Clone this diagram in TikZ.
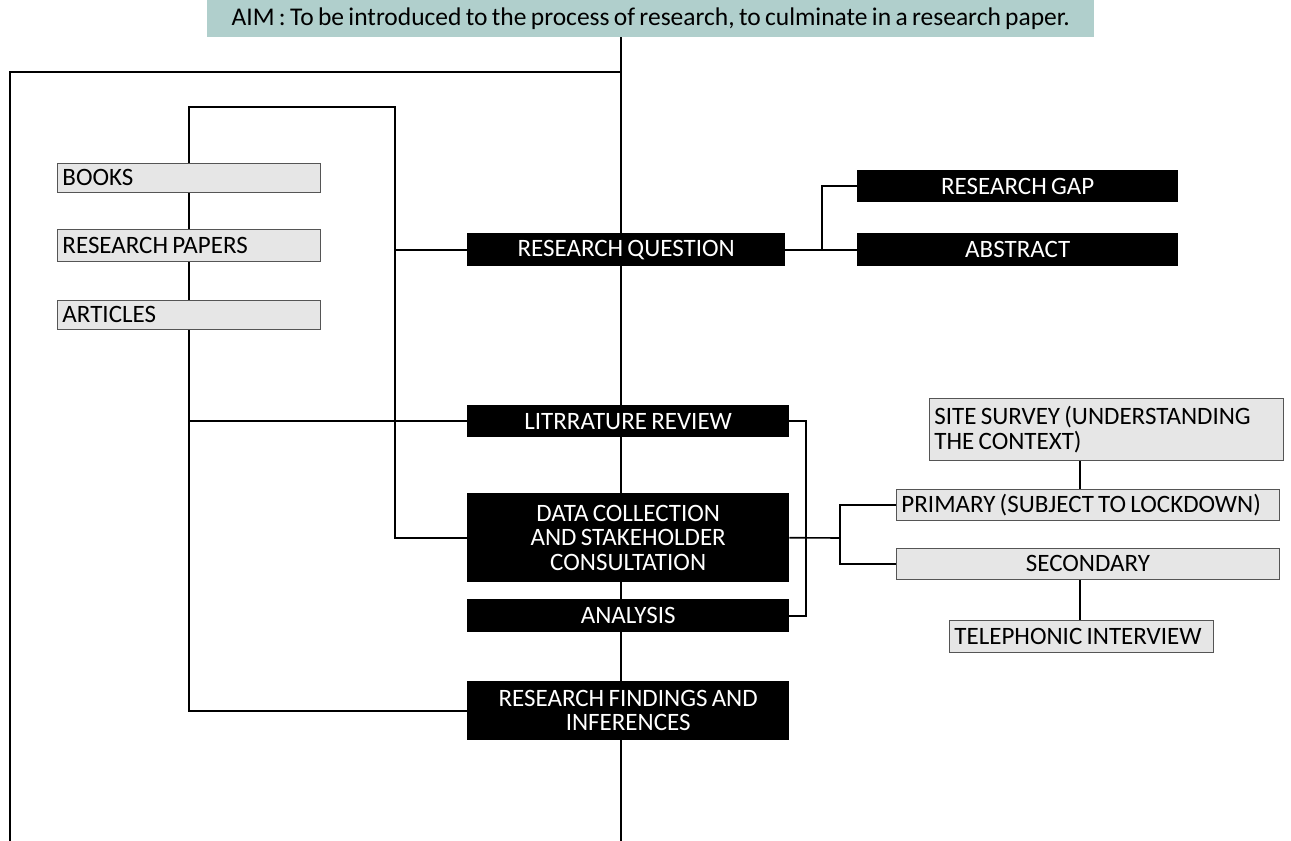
\documentclass[tikz,border=0pt]{standalone}
\usepackage{fontspec}
\setmainfont{Carlito}[WordSpace=0.75]
\usetikzlibrary{calc}
\pgfdeclarelayer{background}
\pgfsetlayers{background,main}
\definecolor{aimfill}{HTML}{B0CFCC}
\definecolor{gryfill}{HTML}{E6E6E6}
\definecolor{grydraw}{HTML}{555555}
\newcommand{\bigf}{\fontsize{25}{24.5}\selectfont}
\newcommand{\aimf}{\fontsize{25.5}{26}\selectfont}
\tikzset{
  blkbox/.style={fill=black, text=white, inner sep=0pt, align=flush center, font=\bigf, anchor=north west},
  grybox/.style={fill=gryfill, draw=grydraw, line width=0.9pt, inner ysep=0pt, inner xsep=5pt, font=\bigf, anchor=north west},
  conn/.style={line width=1.6pt, black}
}
\begin{document}
\begin{tikzpicture}[x=1pt, y=-1pt]
\useasboundingbox (0,0) rectangle (1291,841);
% banner
\node[fill=aimfill, inner sep=0pt, minimum width=887, minimum height=37, anchor=north west, font=\aimf] (aim) at (207,0) {AIM : To be introduced to the process of research, to culminate in a research paper.};
% left sources
\node[grybox, minimum height=29, text width=253, align=flush left] (books) at (57,163) {BOOKS};
\node[grybox, minimum height=32, text width=253, align=flush left] (papers) at (57,229) {RESEARCH PAPERS};
\node[grybox, minimum height=29, text width=253, align=flush left] (articles) at (57,300) {ARTICLES};
% central column
\node[blkbox, minimum width=318, minimum height=33] (rq) at (467,233) {RESEARCH QUESTION};
\node[blkbox, minimum width=321, minimum height=32] (gap) at (857,170) {RESEARCH GAP};
\node[blkbox, minimum width=321, minimum height=33] (abstract) at (857,233) {ABSTRACT};
\node[blkbox, minimum width=322, minimum height=32] (lit) at (467,405) {LITRRATURE REVIEW};
\node[blkbox, minimum width=322, minimum height=89] (dc) at (467,493) {DATA COLLECTION\\AND STAKEHOLDER\\CONSULTATION};
\node[blkbox, minimum width=322, minimum height=33] (analysis) at (467,599) {ANALYSIS};
\node[blkbox, minimum width=322, minimum height=59] (findings) at (467,681) {RESEARCH FINDINGS AND\\INFERENCES};
% right side
\node[grybox, minimum height=62, text width=344, align=flush left] (site) at (929,398) {SITE SURVEY (UNDERSTANDING\\THE CONTEXT)};
\node[grybox, minimum height=31, text width=373, align=flush left] (primary) at (896,489) {PRIMARY (SUBJECT TO LOCKDOWN)};
\node[grybox, minimum height=31, text width=373, align=flush center] (secondary) at (896,548) {SECONDARY};
\node[grybox, minimum height=32, text width=254, align=flush left] (tel) at (949,620) {TELEPHONIC INTERVIEW};
% coordinates
\coordinate (ctop) at (621,37);
\coordinate (cbot) at (621,841);
\coordinate (f1) at (621,72);
\coordinate (f2) at (10,72);
\coordinate (f3) at (10,841);
\coordinate (ls) at (189,107);
\coordinate (rt) at (395,107);
\coordinate (j1) at (822,250);
\coordinate (br) at (806,500);
\coordinate (j3) at (840,538);
\coordinate (vx) at (1080,0);
\begin{pgfonlayer}{background}
\draw[conn] (ctop) -- (cbot);
\draw[conn] (f1) -- (f2) -- (f3);
\draw[gray!25, line width=1pt] (f3) -- (cbot);
\draw[conn] (findings.west) -| (ls) -- (rt) |- (dc.west);
\draw[conn] (lit.west) -- (lit.west -| ls);
\draw[conn] (rq.west) -- (rq.west -| rt);
\draw[conn] (rq.east) -- (abstract.west);
\draw[conn] (gap.west) -| (j1);
\draw[conn] (lit.east) -| (br) |- (analysis.east);
\draw[conn] (dc.east) -- (j3);
\draw[conn] (primary.west) -| (j3) |- (secondary.west);
\draw[conn] (vx |- site.south) -- (vx |- primary.north);
\draw[conn] (vx |- secondary.south) -- (vx |- tel.north);
\end{pgfonlayer}
\end{tikzpicture}
\end{document}
